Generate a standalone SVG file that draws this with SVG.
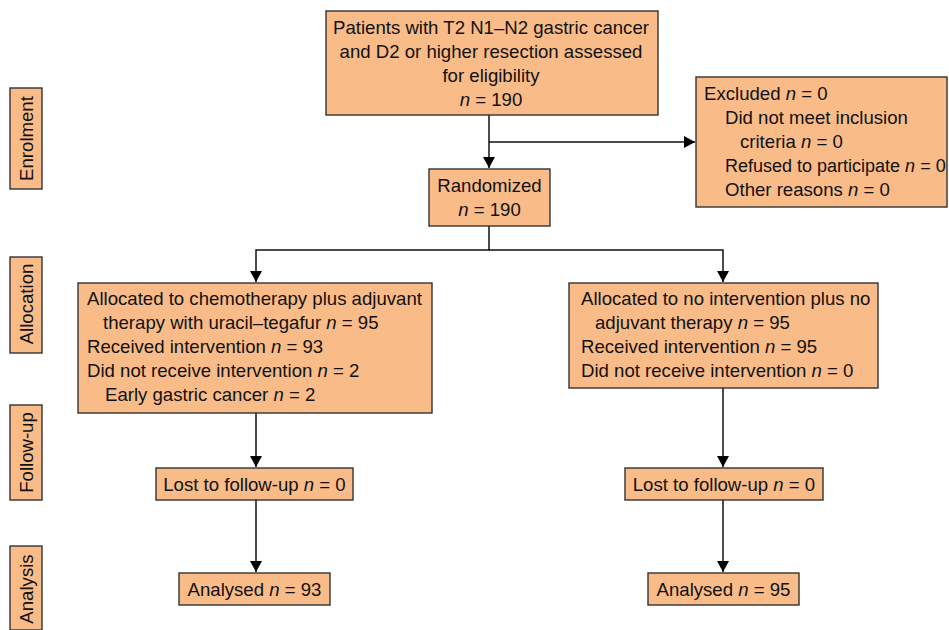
<svg xmlns="http://www.w3.org/2000/svg" width="949" height="630" viewBox="0 0 949 630">
<defs>
<style>
.box{fill:#F9BC88;stroke:#333;stroke-width:1.4}
text{font-family:"Liberation Sans",Arial,Helvetica,sans-serif;font-size:18.6px;fill:#111}
.c{text-anchor:middle}
.i{font-style:italic}
.s{font-size:18px}
.ln{fill:none;stroke:#111;stroke-width:1.5}
</style>
<marker id="ah" markerUnits="userSpaceOnUse" markerWidth="11" markerHeight="12" refX="11" refY="6" orient="auto">
<path d="M0,0 L11,6 L0,12 z" fill="#000"/>
</marker>
</defs>
<rect width="949" height="630" fill="#fff"/>

<g id="phase-enrolment">
<rect class="box" x="10" y="88" width="32" height="101"/>
<text class="c" transform="translate(33,138.5) rotate(-90)">Enrolment</text>
</g>
<g id="phase-allocation">
<rect class="box" x="10" y="257" width="32" height="96"/>
<text class="c" transform="translate(33,304) rotate(-90)">Allocation</text>
</g>
<g id="phase-followup">
<rect class="box" x="10" y="405" width="32" height="95"/>
<text class="c" transform="translate(33,452.5) rotate(-90)">Follow-up</text>
</g>
<g id="phase-analysis">
<rect class="box" x="10" y="546" width="32" height="84"/>
<text class="c" transform="translate(33,589) rotate(-90)">Analysis</text>
</g>

<g id="connectors">
<path class="ln" d="M489,115 V168" marker-end="url(#ah)"/>
<path class="ln" d="M489,142 H695" marker-end="url(#ah)"/>
<path class="ln" d="M489,226 V250 H256 V282" marker-end="url(#ah)"/>
<path class="ln" d="M489,250 H723 V282" marker-end="url(#ah)"/>
<path class="ln" d="M256,413 V467" marker-end="url(#ah)"/>
<path class="ln" d="M723,388 V467" marker-end="url(#ah)"/>
<path class="ln" d="M256,500 V572" marker-end="url(#ah)"/>
<path class="ln" d="M723,500 V572" marker-end="url(#ah)"/>
</g>

<g id="assessed">
<rect class="box" x="326" y="11" width="332" height="104"/>
<text class="c" x="491" y="34">Patients with T2 N1–N2 gastric cancer</text>
<text class="c" x="491" y="58">and D2 or higher resection assessed</text>
<text class="c" x="491" y="82">for eligibility</text>
<text class="c" x="491" y="106"><tspan class="i">n</tspan> = 190</text>
</g>

<g id="excluded">
<rect class="box" x="696" y="77" width="251" height="130"/>
<text x="704" y="100">Excluded <tspan class="i">n</tspan> = 0</text>
<text x="725" y="124">Did not meet inclusion</text>
<text x="740" y="148">criteria <tspan class="i">n</tspan> = 0</text>
<text class="s" x="725" y="172">Refused to participate <tspan class="i">n</tspan> = 0</text>
<text x="725" y="196">Other reasons <tspan class="i">n</tspan> = 0</text>
</g>

<g id="randomized">
<rect class="box" x="429" y="169" width="121" height="57"/>
<text class="c" x="489.5" y="192">Randomized</text>
<text class="c" x="489.5" y="216"><tspan class="i">n</tspan> = 190</text>
</g>

<g id="alloc-chemo">
<rect class="box" x="78" y="283" width="354" height="130"/>
<text x="87" y="305">Allocated to chemotherapy plus adjuvant</text>
<text x="103" y="329">therapy with uracil–tegafur <tspan class="i">n</tspan> = 95</text>
<text x="87" y="353">Received intervention <tspan class="i">n</tspan> = 93</text>
<text x="87" y="377">Did not receive intervention <tspan class="i">n</tspan> = 2</text>
<text x="105" y="401">Early gastric cancer <tspan class="i">n</tspan> = 2</text>
</g>

<g id="alloc-none">
<rect class="box" x="569" y="283" width="309" height="105"/>
<text x="581" y="305">Allocated to no intervention plus no</text>
<text x="595" y="329">adjuvant therapy <tspan class="i">n</tspan> = 95</text>
<text x="581" y="353">Received intervention <tspan class="i">n</tspan> = 95</text>
<text x="581" y="377">Did not receive intervention <tspan class="i">n</tspan> = 0</text>
</g>

<g id="lost-left">
<rect class="box" x="156" y="468" width="197" height="32"/>
<text class="c" x="254.5" y="491">Lost to follow-up <tspan class="i">n</tspan> = 0</text>
</g>
<g id="lost-right">
<rect class="box" x="625" y="468" width="198" height="32"/>
<text class="c" x="724" y="491">Lost to follow-up <tspan class="i">n</tspan> = 0</text>
</g>

<g id="analysed-left">
<rect class="box" x="179" y="573" width="151" height="32"/>
<text class="c" x="254.5" y="596">Analysed <tspan class="i">n</tspan> = 93</text>
</g>
<g id="analysed-right">
<rect class="box" x="648" y="573" width="151" height="32"/>
<text class="c" x="723.5" y="596">Analysed <tspan class="i">n</tspan> = 95</text>
</g>
</svg>
